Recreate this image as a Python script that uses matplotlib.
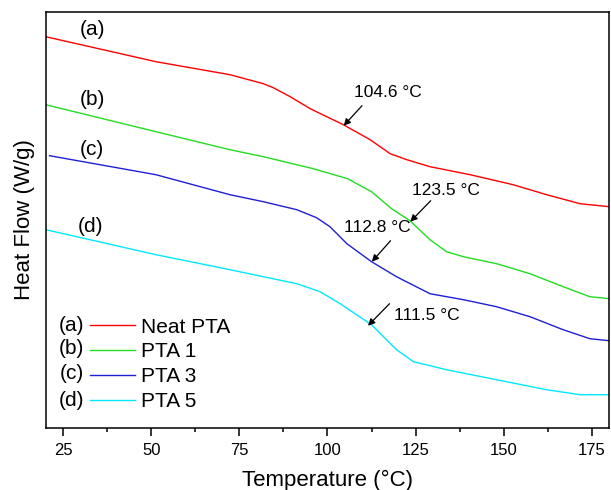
import matplotlib
matplotlib.use("Agg")
import matplotlib.pyplot as plt
from matplotlib.ticker import MultipleLocator

plt.rcParams['font.family'] = ['Liberation Sans', 'DejaVu Sans']

# DSC traces (temperature in degC, heat flow offset in arbitrary W/g units)
temp_a = [20.0, 51.3, 72.3, 81.8, 84.6, 89.4, 95.1, 104.5, 112.1, 117.8, 122.5, 129.1, 140.5, 152.7, 162.2, 171.7, 180.0]
flow_a = [3.91, 3.66, 3.53, 3.44, 3.40, 3.31, 3.19, 3.03, 2.88, 2.74, 2.68, 2.61, 2.53, 2.43, 2.33, 2.24, 2.21]

temp_b = [20.0, 51.3, 72.3, 81.8, 96.0, 105.7, 112.5, 118.2, 123.4, 129.1, 133.8, 138.6, 148.0, 157.5, 166.9, 174.5, 180.0]
flow_b = [3.23, 2.96, 2.78, 2.71, 2.59, 2.49, 2.36, 2.19, 2.07, 1.88, 1.76, 1.71, 1.64, 1.54, 1.41, 1.31, 1.29]

temp_c = [21.1, 51.3, 72.3, 81.8, 91.3, 96.9, 100.7, 105.5, 112.5, 119.6, 129.1, 138.6, 148.0, 157.5, 166.9, 174.5, 180.0]
flow_c = [2.72, 2.53, 2.33, 2.26, 2.18, 2.10, 2.01, 1.84, 1.66, 1.51, 1.34, 1.28, 1.21, 1.11, 0.98, 0.89, 0.87]

temp_d = [20.0, 32.6, 51.3, 72.3, 81.8, 91.3, 97.9, 103.6, 112.5, 119.6, 124.4, 133.8, 148.0, 162.2, 171.7, 180.0]
flow_d = [1.98, 1.88, 1.73, 1.58, 1.51, 1.44, 1.36, 1.24, 1.03, 0.78, 0.66, 0.58, 0.48, 0.38, 0.33, 0.33]

series_names = ['Neat PTA', 'PTA 1', 'PTA 3', 'PTA 5']
series_tags = ['(a)', '(b)', '(c)', '(d)']
colors = ['#ff0000', '#22dd22', '#1f1fd6', '#00e8ff']

# curve tags placed near the left end of each trace
tag_pos = [(33.2, 3.98), (33.2, 3.28), (33.2, 2.78), (32.6, 2.01)]

# glass transition annotations: label, label pos, arrow tail, arrow tip
tg_labels = ['104.6 °C', '123.5 °C', '112.8 °C', '111.5 °C']
tg_text = [(117.2, 3.35), (133.7, 2.37), (114.1, 2.00), (128.3, 1.12)]
tg_tail = [(109.8, 3.22), (129.3, 2.27), (117.9, 1.87), (117.6, 1.24)]
tg_tip = [(104.6, 3.02), (123.5, 2.06), (112.6, 1.66), (111.5, 1.02)]

fig = plt.figure(figsize=(6.11, 4.90), dpi=100)
ax = fig.add_axes([0.0748, 0.1271, 0.9224, 0.8478])

curves = [(temp_a, flow_a), (temp_b, flow_b), (temp_c, flow_c), (temp_d, flow_d)]
handles = []
for (t, f), name, c in zip(curves, series_names, colors):
    line, = ax.plot(t, f, color=c, lw=1.0, label=name)
    handles.append(line)

for tag, (x, y) in zip(series_tags, tag_pos):
    ax.text(x, y, tag, fontsize=15, ha='center', va='center')

for lab, tp, tail, tip in zip(tg_labels, tg_text, tg_tail, tg_tip):
    ax.annotate('', xy=tip, xytext=tail,
                arrowprops=dict(arrowstyle='-|>', color='black', lw=0.9,
                                mutation_scale=10, shrinkA=0, shrinkB=0))
    ax.text(tp[0], tp[1], lab, fontsize=12.5, ha='center', va='center')

leg = ax.legend(handles=handles, loc='lower left', bbox_to_anchor=(0.0779, 0.040),
                frameon=False, fontsize=15, handlelength=2.2, handletextpad=0.26,
                labelspacing=0.28, borderpad=0, borderaxespad=0)

# tags in front of the legend entries
leg_rows = [0.245, 0.190, 0.130, 0.066]
for tag, y in zip(series_tags, leg_rows):
    ax.text(0.068, y, tag, fontsize=15, ha='right', va='center', transform=ax.transAxes)

ax.set_xlim(20, 180)
ax.set_ylim(0, 4.154)
ax.set_xticks([25, 50, 75, 100, 125, 150, 175])
ax.xaxis.set_minor_locator(MultipleLocator(12.5))
ax.tick_params(axis='x', which='major', direction='out', length=5.8, width=1.1,
               labelsize=12, pad=5)
ax.tick_params(axis='x', which='minor', direction='out', length=2.9, width=1.1)
ax.tick_params(axis='y', left=False, labelleft=False)
for s in ax.spines.values():
    s.set_linewidth(1.1)

ax.set_xlabel('Temperature (°C)', fontsize=16, labelpad=9)
ax.set_ylabel('Heat Flow (W/g)', fontsize=16, labelpad=8)

fig.savefig('out.png', dpi=100)
